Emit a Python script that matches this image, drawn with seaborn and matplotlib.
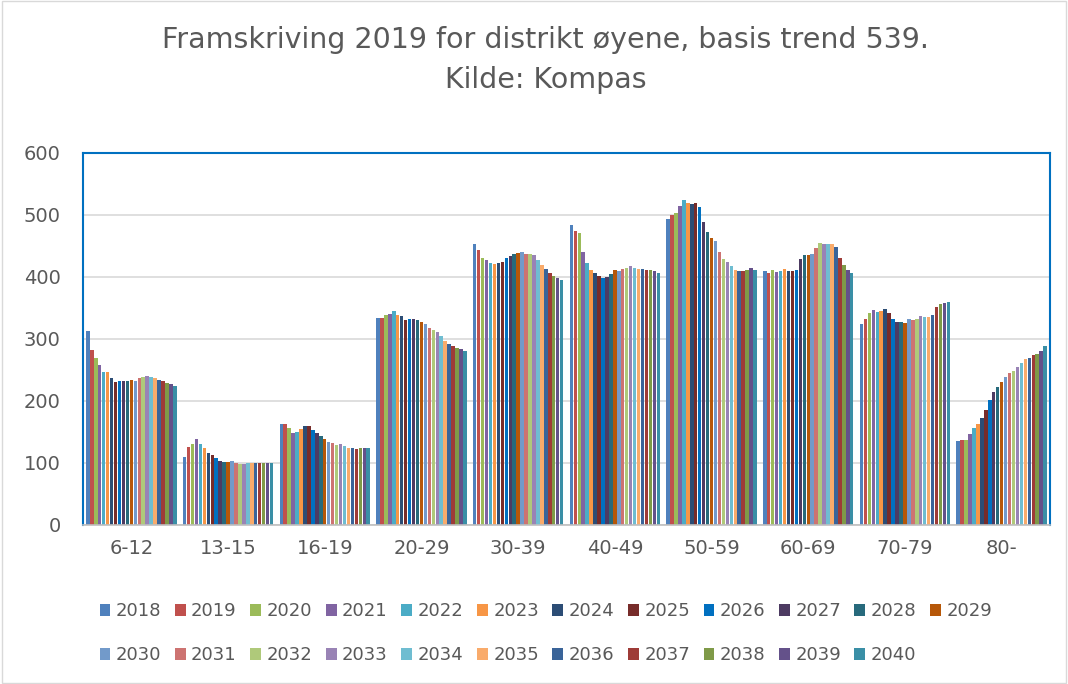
import pandas as pd
import matplotlib.pyplot as plt
import seaborn as sns
from matplotlib.patches import Rectangle

sns.set_theme(style="white")
plt.rcParams['font.family'] = ['DejaVu Sans']

# age groups and years
groups = ['6-12', '13-15', '16-19', '20-29', '30-39', '40-49', '50-59', '60-69', '70-79', '80-']
years = [str(y) for y in range(2018, 2041)]

# values per age group, one per year 2018..2040
v_6_12 = [313, 282, 270, 258, 247, 246, 237, 231, 232, 232, 232, 234, 233, 237, 239, 240, 238, 237, 234, 232, 229, 227, 225]
v_13_15 = [109, 126, 131, 139, 130, 124, 116, 113, 108, 104, 102, 102, 104, 100, 99, 98, 100, 100, 100, 100, 100, 100, 100]
v_16_19 = [163, 163, 157, 149, 150, 155, 159, 160, 154, 148, 144, 139, 134, 132, 129, 131, 127, 124, 124, 123, 124, 124, 124]
v_20_29 = [334, 334, 338, 340, 345, 338, 337, 331, 332, 332, 330, 327, 324, 318, 315, 311, 305, 297, 292, 289, 286, 284, 281]
v_30_39 = [453, 444, 431, 428, 423, 421, 422, 425, 431, 434, 437, 438, 440, 437, 437, 436, 427, 419, 413, 407, 402, 398, 395]
v_40_49 = [484, 474, 471, 441, 423, 412, 406, 401, 398, 400, 405, 411, 409, 413, 415, 417, 415, 413, 413, 412, 411, 409, 407]
v_50_59 = [494, 500, 503, 515, 525, 519, 518, 520, 513, 488, 473, 463, 458, 440, 429, 425, 418, 411, 410, 410, 411, 414, 412]
v_60_69 = [409, 406, 411, 408, 410, 413, 410, 410, 412, 429, 436, 435, 437, 447, 455, 454, 453, 454, 449, 431, 420, 412, 406]
v_70_79 = [325, 332, 342, 346, 344, 345, 348, 342, 333, 327, 327, 326, 332, 330, 333, 337, 335, 335, 339, 352, 357, 358, 360]
v_80 = [135, 137, 137, 146, 156, 163, 172, 185, 201, 215, 222, 231, 238, 245, 249, 255, 262, 267, 269, 274, 276, 281, 289]

series = [v_6_12, v_13_15, v_16_19, v_20_29, v_30_39, v_40_49, v_50_59, v_60_69, v_70_79, v_80]

colors = ['#4F81BD', '#C0504D', '#9BBB59', '#8064A2', '#4BACC6', '#F79646',
          '#2C4D75', '#772C2A', '#0070C0', '#4D3B62', '#276A7C', '#B65708',
          '#729ACA', '#CD7371', '#AFC97A', '#9983B5', '#6FBDD1', '#F9AB6B',
          '#3A6499', '#9E3B37', '#7F9A48', '#64518A', '#3A8FA6']

rows = []
for g, vals in zip(groups, series):
    for y, v in zip(years, vals):
        rows.append({'group': g, 'year': y, 'value': v})
df = pd.DataFrame(rows)

fig = plt.figure(figsize=(10.68, 6.84), dpi=100)
ax = fig.add_axes([83 / 1068, 1 - 525 / 684, (1050 - 83) / 1068, (525 - 153) / 684])

sns.barplot(data=df, x='group', y='value', hue='year', order=groups, hue_order=years,
            palette=colors, width=0.94, gap=0.12, linewidth=0, saturation=1, ax=ax, legend=True)

ax.set_ylim(0, 600)
ax.set_yticks(range(0, 601, 100))
ax.yaxis.grid(True, color='#D9D9D9', linewidth=1.2)
ax.set_axisbelow(True)
ax.set_xlabel('')
ax.set_ylabel('')
ax.tick_params(axis='both', length=0, labelsize=14, labelcolor='#595959')
ax.tick_params(axis='x', pad=10)
ax.tick_params(axis='y', pad=16)
for s in ['left', 'top', 'right']:
    ax.spines[s].set_color('#0070C0')
    ax.spines[s].set_linewidth(1.5)
ax.spines['bottom'].set_color('#BFBFBF')
ax.spines['bottom'].set_linewidth(1.2)

# legend in row-major order over two rows
handles, labels = ax.get_legend_handles_labels()
ax.get_legend().remove()
order = []
for i in range(11):
    order += [i, i + 12]
order.append(11)
fig.legend([handles[i] for i in order], [labels[i] for i in order],
           loc='upper center', bbox_to_anchor=(0.511, 1 - 586 / 684), ncol=12,
           frameon=False, fontsize=13, labelcolor='#595959',
           handlelength=0.6, handleheight=0.7, handletextpad=0.3,
           columnspacing=0.75, labelspacing=1.45)

fig.text(0.511, 1 - 40 / 684, 'Framskriving 2019 for distrikt øyene, basis trend 539.',
         ha='center', va='center', fontsize=20.5, color='#595959')
fig.text(0.511, 1 - 80 / 684, 'Kilde: Kompas', ha='center', va='center', fontsize=20.5, color='#595959')

fig.patches.append(Rectangle((0.002, 0.002), 0.996, 0.996, transform=fig.transFigure,
                             fill=False, edgecolor='#D9D9D9', linewidth=1))

plt.savefig('out.png', dpi=100)
